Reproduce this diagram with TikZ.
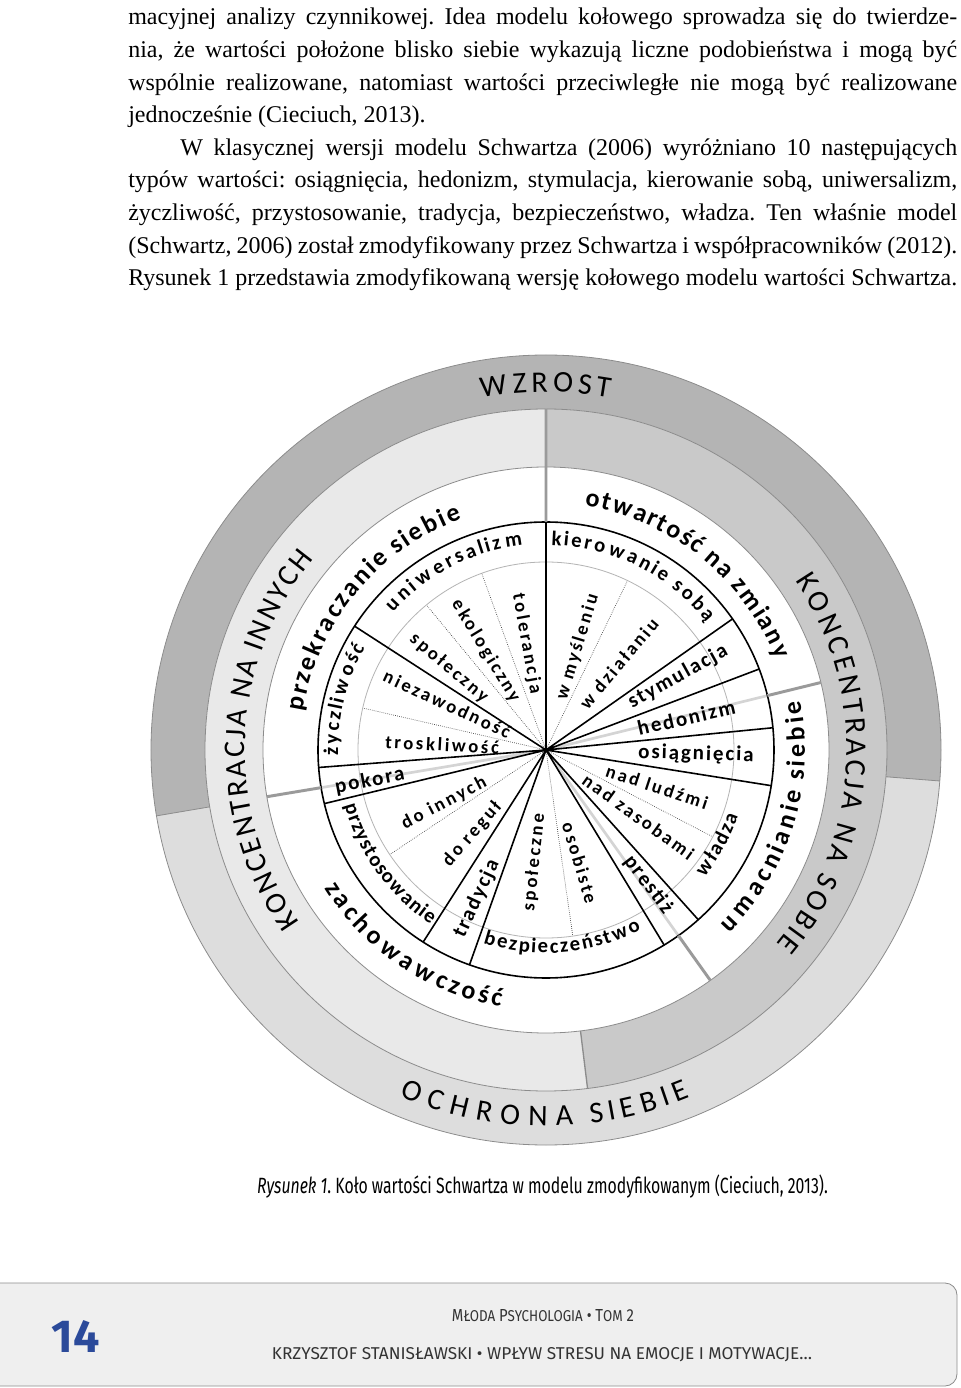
\documentclass[tikz,border=0pt]{standalone}
\usepackage{fontspec}
\usepackage{graphicx}
\usepackage{tikz}
\usetikzlibrary{decorations.text}
\setmainfont{Liberation Serif}
\frenchspacing
\newfontfamily\wzfont{Carlito}
\newfontfamily\grpfont{Carlito}
\newfontfamily\valfont[LetterSpace=9]{Carlito}
\newfontfamily\arcvfont{Carlito}
\newfontfamily\subvfont[LetterSpace=14]{Carlito}
\newfontfamily\footfont{Fira Sans}
\newcommand\wzfnt{\wzfont\fontsize{22.5}{27}\selectfont}
\newcommand\grpfnt{\grpfont\bfseries\fontsize{19.5}{23}\selectfont}
\newcommand\valfnt{\valfont\bfseries\fontsize{15.75}{19}\selectfont}
\newcommand\arcvfnt{\arcvfont\bfseries\fontsize{15.5}{19}\selectfont}
\newcommand\subfnt{\subvfont\bfseries\fontsize{14}{17}\selectfont}
\definecolor{outerdark} {HTML}{B4B4B4}
\definecolor{outerlight}{HTML}{DDDDDD}
\definecolor{sobiegray} {HTML}{C9C9C9}
\definecolor{innychgray}{HTML}{E9E9E9}
\definecolor{edgegray}  {HTML}{8C8C8C}
\definecolor{splitgray} {HTML}{9A9A9A}
\definecolor{palegray}  {HTML}{D4D4D4}
\definecolor{footgray}  {HTML}{EFEFEF}
\definecolor{pageblue}  {HTML}{2B4A9A}

\begin{document}
\begin{tikzpicture}[
  x=0.75pt, y=0.75pt,
  body/.style={anchor=base west,inner sep=0pt,font=\fontsize{18}{24}\selectfont},
  valtext/.style={inner sep=0pt,font=\valfnt},
  subtext/.style={inner sep=0pt,font=\subfnt},
  arctext/.style 2 args={decorate,decoration={text effects along path,text={#2},
    text effects/.cd,text along path,fit text to path,characters={inner sep=0pt,font=#1}}},
  ringline/.style={draw=edgegray,line width=0.6pt},
  grpline/.style={draw=splitgray,line width=2.2pt},
  paleline/.style={draw=palegray,line width=2pt},
  spoke/.style={draw=black,line width=1.2pt},
  subspoke/.style={draw=black!75,line width=0.5pt,densely dotted}
]
\useasboundingbox (-546,-638) rectangle (414,750);

% --- tekst nad rysunkiem ---
\node[body] (l1) at (-418,725)   {\makebox[621.75pt][s]{macyjnej analizy czynnikowej. Idea modelu kołowego sprowadza się do twierdze-}};
\node[body] (l2) at (-418,692.4) {\makebox[621.75pt][s]{nia, że wartości położone blisko siebie wykazują liczne podobieństwa i mogą być}};
\node[body] (l3) at (-418,659.8) {\makebox[621.75pt][s]{wspólnie realizowane, natomiast wartości przeciwległe nie mogą być realizowane}};
\node[body] (l4) at (-418,627.2) {jednocześnie (Cieciuch, 2013).};
\node[body] (l5) at (-366,594.6) {\makebox[582.75pt][s]{W klasycznej wersji modelu Schwartza (2006) wyróżniano 10 następujących}};
\node[body] (l6) at (-418,562)   {\makebox[621.75pt][s]{typów wartości: osiągnięcia, hedonizm, stymulacja, kierowanie sobą, uniwersalizm,}};
\node[body] (l7) at (-418,529.4) {\makebox[621.75pt][s]{życzliwość, przystosowanie, tradycja, bezpieczeństwo, władza. Ten właśnie model}};
\node[body] (l8) at (-418,496.8) {\makebox[621.75pt][s]{(Schwartz, 2006) został zmodyfikowany przez Schwartza i współpracowników (2012).}};
\node[body] (l9) at (-418,464.2) {\makebox[621.75pt][s]{Rysunek 1 przedstawia zmodyfikowaną wersję kołowego modelu wartości Schwartza.}};

% --- pierscienie ---
\fill[outerlight] (0,0) circle[radius=395];
\fill[outerdark] (-4.5:395) arc[start angle=-4.5,end angle=189.6,radius=395]
  -- (189.6:341) arc[start angle=189.6,end angle=-4.5,radius=341] -- cycle;
\fill[innychgray] (0,0) circle[radius=341];
\fill[sobiegray] (-83:341) arc[start angle=-83,end angle=90,radius=341]
  -- (90:283) arc[start angle=90,end angle=-83,radius=283] -- cycle;
\fill[white] (0,0) circle[radius=283];
\draw[ringline] (0,0) circle[radius=395] (0,0) circle[radius=341] (0,0) circle[radius=283];
\draw[ringline] (-4.5:341) -- (-4.5:395) (189.6:341) -- (189.6:395);
\draw[ringline,line width=1pt] (-83:283) -- (-83:341);

% --- szprychy ---
\draw[paleline] (0,0) -- (13.8:228) (0,0) -- (189.5:228) (0,0) -- (-54.5:228);
\draw[draw=palegray!85!black,line width=0.6pt] (0,0) circle[radius=188];
\draw[subspoke] (0,0) -- (110:188) (0,0) -- (129.5:188) (0,0) -- (64.3:188)
  (0,0) -- (167.1:188) (0,0) -- (213.8:188) (0,0) -- (278.2:188) (0,0) -- (-27.5:188);
\draw[spoke] (0,0) -- (90:228) (0,0) -- (35.1:228) (0,0) -- (20.8:228)
  (0,0) -- (5.6:228) (0,0) -- (-9:228) (0,0) -- (-48.1:228) (0,0) -- (-58.8:228)
  (0,0) -- (250.4:228) (0,0) -- (237.4:228) (0,0) -- (193.6:228)
  (0,0) -- (184.4:228) (0,0) -- (147.1:228);
\draw[spoke] (0,0) circle[radius=228];
\draw[grpline] (90:228) -- (90:341) (13.8:228) -- (13.8:283)
  (189.5:228) -- (189.5:283) (-54.5:228) -- (-54.5:283);

% --- napisy na lukach ---
\path[arctext={\wzfnt}{WZROST}] (100.4:358) arc[start angle=100.4,end angle=79.8,radius=358];
\path[arctext={\wzfnt}{OCHRONA SIEBIE}] (-113:376) arc[start angle=-113,end angle=-67.5,radius=376];
\path[arctext={\wzfnt}{KONCENTRACJA NA INNYCH}] (215:301) arc[start angle=215,end angle=140.5,radius=301];
\path[arctext={\wzfnt}{KONCENTRACJA NA SOBIE}] (34.2:301) arc[start angle=34.2,end angle=-40.1,radius=301];
\path[arctext={\grpfnt}{przekraczanie siebie}] (171:246) arc[start angle=171,end angle=110,radius=246];
\path[arctext={\grpfnt}{otwartość na zmiany}] (81:247) arc[start angle=81,end angle=21.5,radius=247];
\path[arctext={\grpfnt}{umacnianie siebie}] (-45:259) arc[start angle=-45,end angle=11,radius=259];
\path[arctext={\grpfnt}{zachowawczość}] (212:261) arc[start angle=212,end angle=260,radius=261];
\path[arctext={\arcvfnt}{uniwersalizm}] (138:206) arc[start angle=138,end angle=96.5,radius=206];
\path[arctext={\arcvfnt}{kierowanie sobą}] (88.5:205) arc[start angle=88.5,end angle=38.5,radius=205];
\path[arctext={\arcvfnt}{życzliwość}] (181.5:208) arc[start angle=181.5,end angle=150.5,radius=208];
\path[arctext={\arcvfnt}{przystosowanie}] (195.5:209) arc[start angle=195.5,end angle=236.5,radius=209];
\path[arctext={\arcvfnt}{bezpieczeństwo}] (252:203) arc[start angle=252,end angle=298,radius=203];
\path[arctext={\arcvfnt}{władza}] (-38.7:203) arc[start angle=-38.7,end angle=-18.9,radius=203];

% --- napisy promieniste ---
\node[valtext,rotate=-1.6] (osi) at (-1.6:150) {osiągnięcia};
\node[valtext,rotate=13]   (hed) at (13:144)   {hedonizm};
\node[valtext,rotate=29.1] (sty) at (29.1:151) {stymulacja};
\node[valtext,rotate=-52.8] (pre) at (-52.8:169) {prestiż};
\node[valtext,rotate=65]   (tra) at (245:164)  {tradycja};
\node[valtext,rotate=11]   (pok) at (190:179)  {pokora};
\node[subtext,rotate=-79.7] (tol) at (100.3:108) {tolerancja};
\node[subtext,rotate=-58.7] (eko) at (121.3:116) {ekologiczny};
\node[subtext,rotate=-40.2] (spy) at (139.8:127) {społeczny};
\node[subtext,rotate=-25]   (nie) at (155:109)   {niezawodność};
\node[subtext,rotate=-3]    (tro) at (177:104)   {troskliwość};
\node[subtext,rotate=27.6]  (inn) at (207.6:115) {do innych};
\node[subtext,rotate=48.8]  (reg) at (228.8:112) {do reguł};
\node[subtext,rotate=84]    (spe) at (264:113)   {społeczne};
\node[subtext,rotate=-73.3] (oso) at (-73.3:118) {osobiste};
\node[subtext,rotate=-35.8] (zas) at (-35.8:114) {nad zasobami};
\node[subtext,rotate=-18.3] (lud) at (-18.3:117) {nad ludźmi};
\node[subtext,rotate=49.9]  (dzi) at (49.9:113)  {w działaniu};
\node[subtext,rotate=73]    (mys) at (73:108)    {w myśleniu};

% --- podpis ---
\node[inner sep=0pt,anchor=base] (cap) at (-3.5,-443)
  {\resizebox{428pt}{14pt}{\footfont\textit{Rysunek 1}. Koło wartości Schwartza w modelu zmodyfikowanym (Cieciuch, 2013).}};

% --- stopka ---
\draw[draw=edgegray,fill=footgray,line width=0.6pt,rounded corners=9pt] (-560,-533) rectangle (411,-636);
\node[inner sep=0pt,text=pageblue] (page) at (-470,-586) {\resizebox{36pt}{24pt}{\footfont\bfseries 14}};
\node[inner sep=0pt,anchor=base,text=black!80] (journal) at (-3,-571)
  {\resizebox{136.5pt}{9pt}{\footfont M{\small ŁODA} P{\small SYCHOLOGIA} \textbullet{} T{\small OM} 2}};
\node[inner sep=0pt,anchor=base,text=black!80] (author) at (-4,-609)
  {\resizebox{405pt}{9pt}{\footfont KRZYSZTOF STANISŁAWSKI \textbullet{} WPŁYW STRESU NA EMOCJE I MOTYWACJE\ldots}};
\end{tikzpicture}
\end{document}
